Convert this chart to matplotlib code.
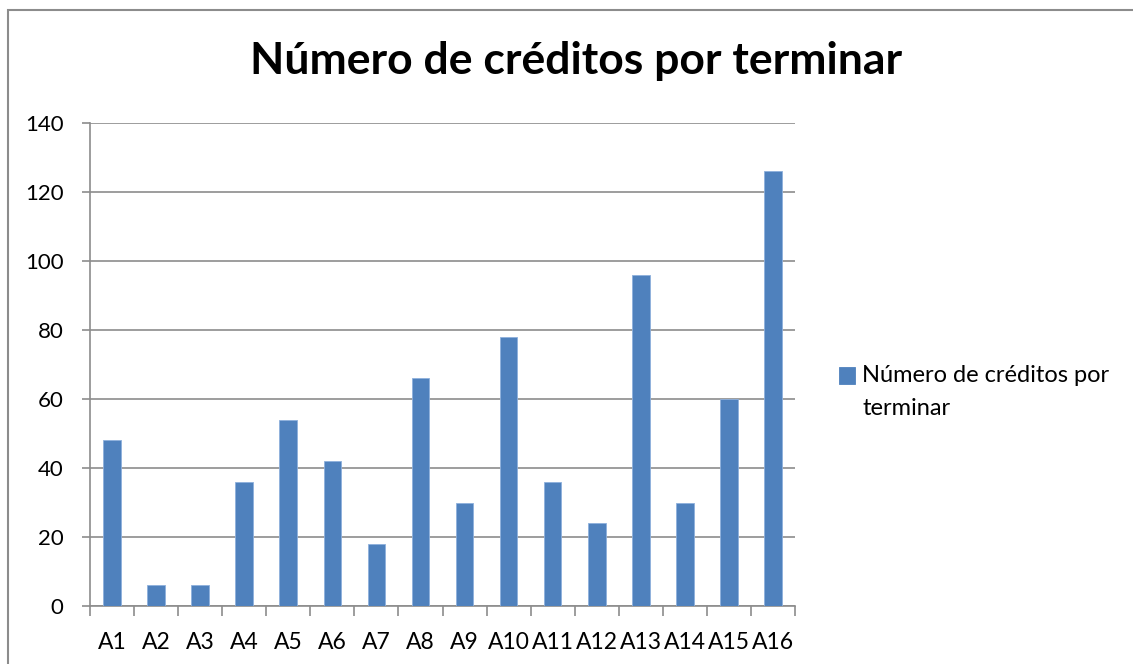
import matplotlib
matplotlib.use("Agg")
import matplotlib.pyplot as plt
from matplotlib.patches import Rectangle

categories = ["A1", "A2", "A3", "A4", "A5", "A6", "A7", "A8",
              "A9", "A10", "A11", "A12", "A13", "A14", "A15", "A16"]
values = [48, 6, 6, 36, 54, 42, 18, 66, 30, 78, 36, 24, 96, 30, 60, 126]
series_name = "Número de créditos por terminar"
title = "Número de créditos por terminar"
yticks = [0, 20, 40, 60, 80, 100, 120, 140]

plt.rcParams['font.family'] = ['Lato', 'DejaVu Sans']

W, H = 1133, 664
fig = plt.figure(figsize=(W / 100, H / 100), dpi=100)

# outer chart border (extends past right/bottom edge like the reference)
fig.patches.append(Rectangle((8 / W, -0.1), 1.2, 1 - 10 / H + 0.1,
                             transform=fig.transFigure, fill=False,
                             edgecolor="#8c8c8c", linewidth=1.5, zorder=0))

left, right = 90 / W, 795 / W
bottom, top = 1 - 606 / H, 1 - 123 / H
ax = fig.add_axes([left, bottom, right - left, top - bottom])

x = list(range(len(categories)))
ax.bar(x, values, width=0.4, color="#4F81BD", edgecolor="#8EB0DC",
       linewidth=0.6, zorder=3, label=series_name)

ax.set_xlim(-0.5, len(categories) - 0.5)
ax.set_ylim(0, 140)
ax.set_yticks(yticks)
ax.set_yticklabels([str(t) for t in yticks], fontsize=16)
ax.set_xticks(x)
ax.set_xticklabels(categories, fontsize=16.5)
ax.set_xticks([i - 0.5 for i in range(len(categories) + 1)], minor=True)

ax.grid(axis="y", color="#8c8c8c", linewidth=1.2, zorder=0)
for s in ["top", "right"]:
    ax.spines[s].set_visible(False)
for s in ["left", "bottom"]:
    ax.spines[s].set_color("#8c8c8c")
    ax.spines[s].set_linewidth(1.2)

ax.tick_params(axis="y", length=6, width=1.2, color="#8c8c8c", pad=13)
ax.tick_params(axis="x", which="major", length=0, pad=19)
ax.tick_params(axis="x", which="minor", length=7, width=1.2, color="#8c8c8c")

fig.text(576 / W, 1 - 61 / H, title, ha="center", va="center",
         fontsize=32, fontweight="bold")

# legend
leg = fig.legend(loc="upper left", bbox_to_anchor=(818 / W, 1 - 344 / H),
                 frameon=False, fontsize=17, handlelength=0.68,
                 handleheight=0.68, handletextpad=0.3,
                 labels=["Número de créditos por\nterminar"],
                 handles=[ax.patches[0]])
leg.get_texts()[0].set_linespacing(1.7)
h = leg.legend_handles[0]
h.set_y(h.get_y() + 12.2)
h.set_edgecolor("#4F81BD")

fig.savefig("out.png", dpi=100)
